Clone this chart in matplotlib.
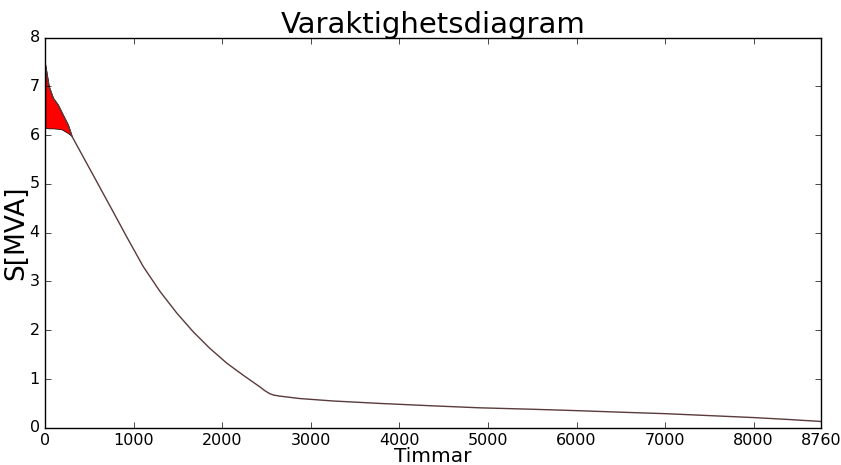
import matplotlib
matplotlib.use("Agg")
import matplotlib.pyplot as plt
import numpy as np

plt.style.use("classic")

# Load duration curve (hours sorted by apparent power)
hours = [0, 5, 17, 40, 88, 144, 201, 257, 299, 540, 765, 917, 1104, 1293,
         1481, 1669, 1857, 2046, 2233, 2422, 2480, 2534, 2580, 2647, 2873,
         3249, 3776, 4378, 4905, 5507, 6034, 6500, 7000, 7500, 8000, 8400,
         8760]
load = [7.44, 7.38, 7.25, 7.00, 6.76, 6.62, 6.41, 6.21, 5.98, 5.18, 4.43,
        3.92, 3.31, 2.80, 2.36, 1.97, 1.63, 1.33, 1.08, 0.84, 0.76, 0.70,
        0.67, 0.65, 0.60, 0.55, 0.50, 0.45, 0.41, 0.38, 0.35, 0.32, 0.29,
        0.25, 0.21, 0.17, 0.13]

# Limited power over the overload hours
cap_hours = [0, 40, 88, 144, 183, 201, 230, 257, 299]
cap = [6.15, 6.14, 6.14, 6.13, 6.12, 6.10, 6.07, 6.04, 5.98]

xticks = [0, 1000, 2000, 3000, 4000, 5000, 6000, 7000, 8000, 8760]

fig = plt.figure(figsize=(8.41, 4.65), dpi=100, facecolor="white")
ax = fig.add_axes([0.054, 0.080, 0.922, 0.839])

upper = np.interp(cap_hours, hours, load)
ax.fill_between(cap_hours, cap, upper, facecolor="red", edgecolor="black",
                linewidth=0.5)
ax.plot(hours, load, color="#5a3a3a", linewidth=1.0)

ax.set_xlim(0, 8760)
ax.set_ylim(0, 8)
ax.set_xticks(xticks)
ax.set_xticklabels([str(t) for t in xticks])
ax.tick_params(labelsize=11.5, pad=4)
ax.set_title("Varaktighetsdiagram", fontsize=21, pad=3)
ax.set_xlabel("Timmar", fontsize=14.5)
ax.set_ylabel("S[MVA]", fontsize=19)
ax.xaxis.set_label_coords(0.5, -0.049)
ax.yaxis.set_label_coords(-0.021, 0.5)

fig.savefig("out.png", dpi=100, facecolor="white")
